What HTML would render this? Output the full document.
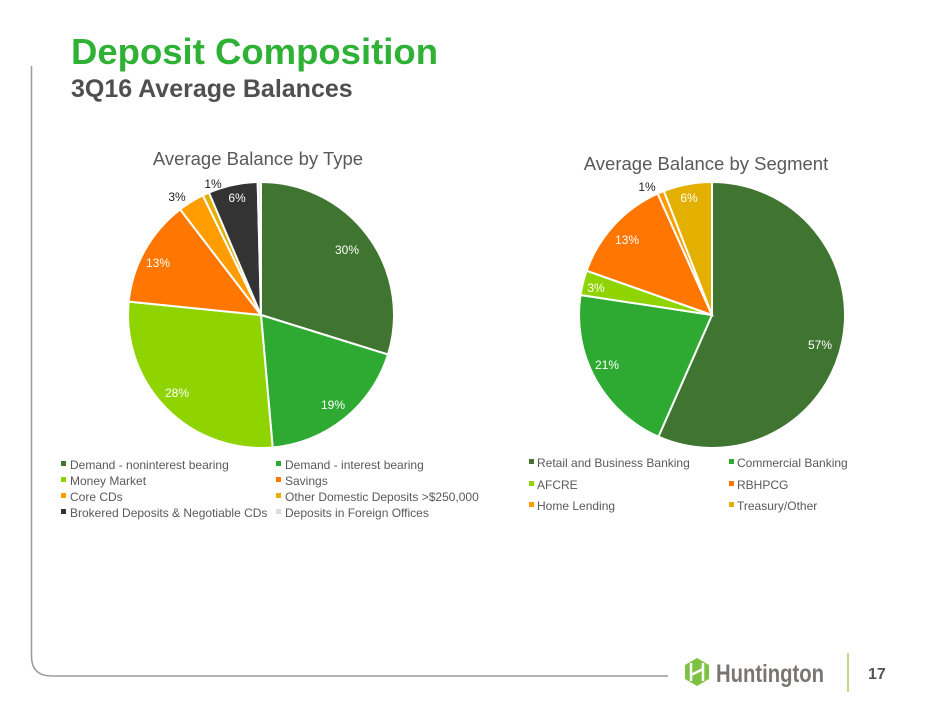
<!DOCTYPE html>
<html><head><meta charset="utf-8"><style>
body{margin:0;background:#fff;font-family:"Liberation Sans",Arial,sans-serif;}
#w{position:relative;width:940px;height:705px;overflow:hidden;}
</style></head><body><div id="w">
<svg id="s" width="940" height="705" xmlns="http://www.w3.org/2000/svg" style="position:absolute;left:0;top:0">
<path d="M31.5 66 V656 Q31.5 676 51.5 676 H668" fill="none" stroke="#a09a95" stroke-width="1.5"/>
<text x="71" y="64" font-size="36.5" font-weight="bold" fill="#2eb135">Deposit Composition</text>
<text x="71" y="97" font-size="25" font-weight="bold" fill="#4f4f4f">3Q16 Average Balances</text>
<text x="258" y="165" font-size="18.5" fill="#595959" text-anchor="middle">Average Balance by Type</text>
<text x="706" y="170" font-size="18.5" fill="#595959" text-anchor="middle">Average Balance by Segment</text>
<g id="p1"></g><g id="p2"></g>
<g font-size="12" fill="#fff" text-anchor="middle">
<text x="347" y="254">30%</text><text x="333" y="409">19%</text><text x="177" y="397">28%</text><text x="158" y="267">13%</text>
<text x="237" y="202">6%</text>
<text x="820" y="349">57%</text><text x="607" y="369">21%</text><text x="596" y="292">3%</text><text x="627" y="244">13%</text><text x="689" y="202">6%</text>
</g>
<g font-size="12" fill="#222" text-anchor="middle">
<text x="177" y="201">3%</text><text x="213" y="188">1%</text><text x="647" y="191">1%</text>
</g>
<g font-size="12" fill="#595959">
<rect x="61" y="461" width="5" height="5" fill="#3f7530"/><text x="70" y="469">Demand - noninterest bearing</text>
<rect x="276" y="461" width="5" height="5" fill="#2eaa33"/><text x="285" y="469">Demand - interest bearing</text>
<rect x="61" y="477" width="5" height="5" fill="#8fd400"/><text x="70" y="485">Money Market</text>
<rect x="276" y="477" width="5" height="5" fill="#ff7700"/><text x="285" y="485">Savings</text>
<rect x="61" y="493" width="5" height="5" fill="#ff9c00"/><text x="70" y="501">Core CDs</text>
<rect x="276" y="493" width="5" height="5" fill="#e3b000"/><text x="285" y="501">Other Domestic Deposits &gt;$250,000</text>
<rect x="61" y="509" width="5" height="5" fill="#333"/><text x="70" y="517">Brokered Deposits &amp; Negotiable CDs</text>
<rect x="276" y="509" width="5" height="5" fill="#ddd"/><text x="285" y="517">Deposits in Foreign Offices</text>
<rect x="529" y="459" width="5" height="5" fill="#3f7530"/><text x="537" y="467">Retail and Business Banking</text>
<rect x="729" y="459" width="5" height="5" fill="#2eaa33"/><text x="737" y="467">Commercial Banking</text>
<rect x="529" y="481" width="5" height="5" fill="#8fd400"/><text x="537" y="489">AFCRE</text>
<rect x="729" y="481" width="5" height="5" fill="#ff7700"/><text x="737" y="489">RBHPCG</text>
<rect x="529" y="502" width="5" height="5" fill="#ff9c00"/><text x="537" y="510">Home Lending</text>
<rect x="729" y="502" width="5" height="5" fill="#e3b000"/><text x="737" y="510">Treasury/Other</text>
</g>
<g transform="translate(697,672)">
<polygon points="0,-14 12,-7 12,7 0,14 -12,7 -12,-7" fill="#7dc242"/>
<path d="M-6 -9 V9 M6 -9 V9 M-6 3 L6 -3" stroke="#fff" stroke-width="2.5" fill="none"/>
</g>
<text x="716" y="682" font-size="25" font-weight="bold" fill="#7a7570" textLength="108" lengthAdjust="spacingAndGlyphs">Huntington</text>
<line x1="848" y1="653" x2="848" y2="692" stroke="#8cc63f" stroke-width="1.2"/>
<text x="868" y="679" font-size="16" font-weight="bold" fill="#555">17</text>
</svg>
<script>
function pie(id,cx,cy,r,vals,cols){
 var g=document.getElementById(id),a=0,t=vals.reduce(function(s,v){return s+v},0),h='';
 for(var i=0;i<vals.length;i++){
  var a1=a+vals[i]/t*2*Math.PI;
  var x0=cx+r*Math.sin(a),y0=cy-r*Math.cos(a),x1=cx+r*Math.sin(a1),y1=cy-r*Math.cos(a1);
  h+='<path d="M'+cx+' '+cy+' L'+x0+' '+y0+' A'+r+' '+r+' 0 '+((a1-a)>Math.PI?1:0)+' 1 '+x1+' '+y1+' Z" fill="'+cols[i]+'" stroke="#fff" stroke-width="2"/>';
  a=a1;}
 g.innerHTML=h;}
pie('p1',261,315,133,[29.8,18.8,28,13,3.2,0.8,6,0.4],['#3f7530','#2eaa33','#8fd400','#ff7700','#ff9c00','#e3b000','#333333','#eeeeee']);
pie('p2',712,315,133,[56.6,20.8,3,12.9,0.8,5.9],['#3f7530','#2eaa33','#8fd400','#ff7700','#ff9c00','#e3b000']);
</script>
</div></body></html>
